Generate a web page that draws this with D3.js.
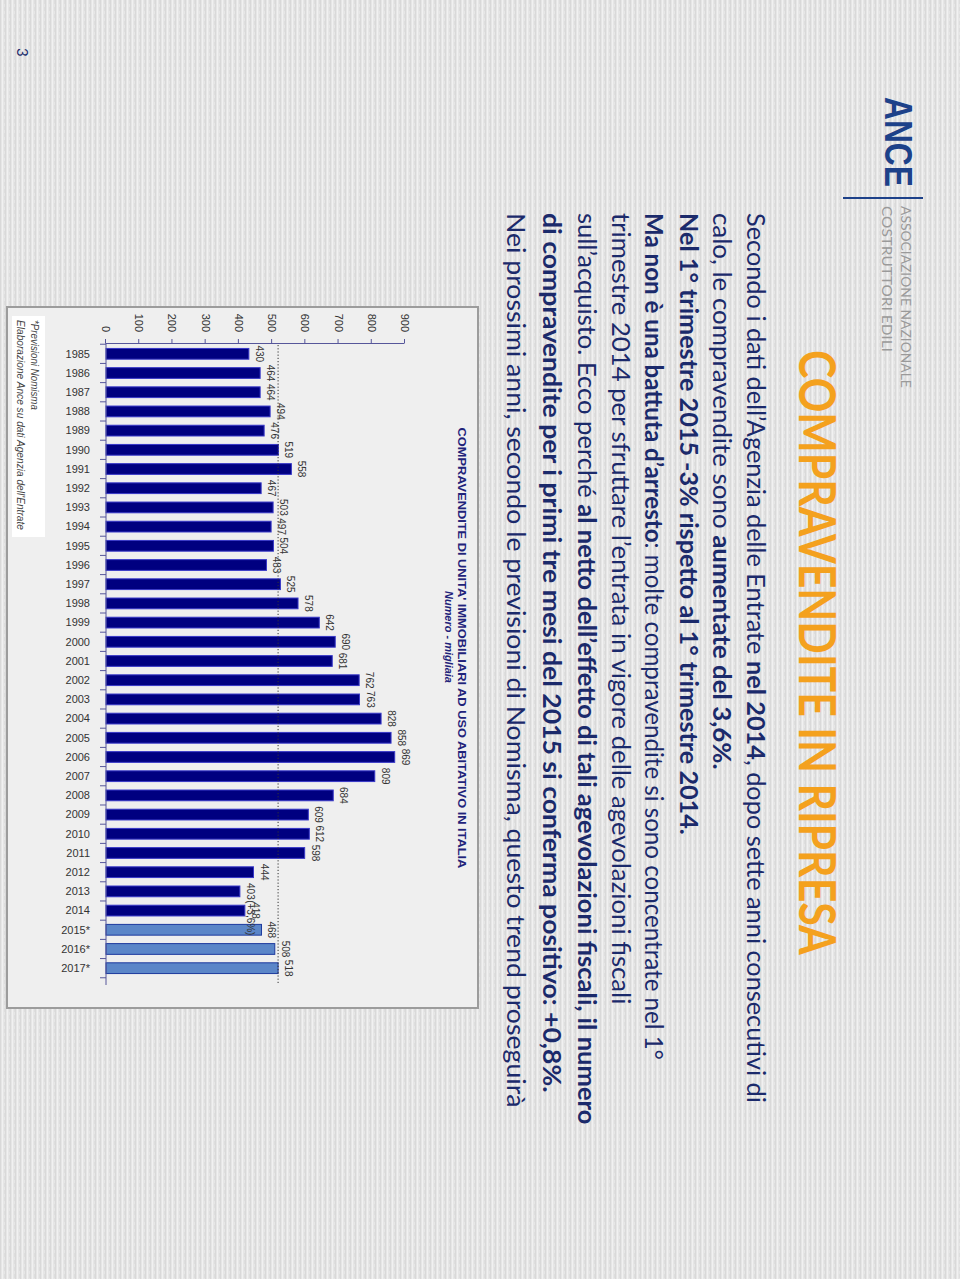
<!DOCTYPE html>
<html>
<head>
<meta charset="utf-8">
<script src="https://cdn.jsdelivr.net/npm/d3@7"></script>
<style>
html,body{margin:0;padding:0;background:#e8e8e8;}
svg{display:block;}
</style>
</head>
<body>
<svg id="page" width="960" height="1279"></svg>
<script>
// ---------------- DATA ----------------
const years = ["1985","1986","1987","1988","1989","1990","1991","1992","1993","1994","1995","1996","1997","1998","1999","2000","2001","2002","2003","2004","2005","2006","2007","2008","2009","2010","2011","2012","2013","2014","2015*","2016*","2017*"];
const values = [430,464,464,494,476,519,558,467,503,497,504,483,525,578,642,690,681,762,763,828,858,869,809,684,609,612,598,444,403,418,468,508,518];
const forecastYears = ["2015*","2016*","2017*"];
const valueTicks = [0,100,200,300,400,500,600,700,800,900];
const referenceValue = 518;
const annotations = [{year:"2013", text:"(+3,6%)"}];

const slideTitle = "COMPRAVENDITE IN RIPRESA";
const chartTitle = "COMPRAVENDITE DI UNITA' IMMOBILIARI AD USO ABITATIVO IN ITALIA";
const chartSubtitle = "Numero - migliaia";
const footnotes = ["*Previsioni Nomisma", "Elaborazione Ance su dati Agenzia dell'Entrate"];
const bodyLines = [
  [["Secondo i dati dell’Agenzia delle Entrate ",0],["nel 2014",1],[", dopo sette anni consecutivi di",0]],
  [["calo, le compravendite sono ",0],["aumentate del 3,6%.",1]],
  [["Nel 1° trimestre 2015 -3% rispetto al 1° trimestre 2014.",1]],
  [["Ma non è una battuta d’arresto",1],[": molte compravendite si sono concentrate nel 1°",0]],
  [["trimestre 2014 per sfruttare l’entrata in vigore delle agevolazioni fiscali",0]],
  [["sull’acquisto. Ecco perché ",0],["al netto dell’effetto di tali agevolazioni fiscali, il numero",1]],
  [["di compravendite per i primi tre mesi del 2015 si conferma positivo: +0,8%.",1]],
  [["Nei prossimi anni, secondo le previsioni di Nomisma, questo trend proseguirà",0]]
];

// ---------------- LAYOUT ----------------
const svg = d3.select("#page");
const defs = svg.append("defs");
const pat = defs.append("pattern").attr("id","tex").attr("patternUnits","userSpaceOnUse")
  .attr("width",5).attr("height",7);
pat.append("rect").attr("width",5).attr("height",7).attr("fill","#e6e6e6");
pat.append("rect").attr("x",0).attr("width",1).attr("height",7).attr("fill","#d9d9d9");
pat.append("rect").attr("x",2).attr("width",1).attr("height",7).attr("fill","#f1f1f1");
pat.append("rect").attr("x",4).attr("width",1).attr("height",4).attr("fill","#dedede");
svg.append("rect").attr("width",960).attr("height",1279).attr("fill","url(#tex)");

// slide is rotated 90° clockwise on the page
const slide = svg.append("g").attr("transform","translate(960,0) rotate(90)");

function scaleText(sel, s){
  const x0 = +sel.attr("x"), y0 = +sel.attr("y");
  sel.attr("transform", `translate(${x0},${y0}) scale(${s},1) translate(${-x0},${-y0})`);
}
function fit(sel, w){
  scaleText(sel, w / sel.node().getComputedTextLength());
}

const navy = "#1b2a6b";

// ANCE logo
fit(slide.append("text").attr("x",97).attr("y",75).attr("font-family","Liberation Sans, Arial")
  .attr("font-weight","bold").attr("font-size",38).attr("fill","#1d4189").text("ANCE"), 90);
slide.append("line").attr("x1",198).attr("x2",198).attr("y1",37).attr("y2",117)
  .attr("stroke","#1d4189").attr("stroke-width",2);
fit(slide.append("text").attr("x",206).attr("y",59).attr("font-family","Lato").attr("font-weight",400)
  .attr("font-size",14).attr("fill","#9a9a9a").text("ASSOCIAZIONE NAZIONALE"), 182);
fit(slide.append("text").attr("x",206).attr("y",78).attr("font-family","Lato").attr("font-weight",400)
  .attr("font-size",14).attr("fill","#9a9a9a").text("COSTRUTTORI EDILI"), 146);

// Title
fit(slide.append("text").attr("x",350).attr("y",161).attr("font-family","Lato").attr("font-weight",700)
  .attr("font-size",51).attr("fill","#f4a11e").text(slideTitle), 605);

// Body
const baselines = [213,247,280,315,348,382,417,453];
const lineWidths = [890,557,622,847,792,912,880,895];
bodyLines.forEach((parts,i)=>{
  const t = slide.append("text").attr("x",213).attr("y",baselines[i]).attr("font-family","Lato")
    .attr("font-size",25).attr("fill",navy);
  parts.forEach(p=>{
    t.append("tspan").attr("font-weight",p[1]?700:400).text(p[0]);
  });
  fit(t, lineWidths[i]);
});

// Page number
slide.append("text").attr("x",48).attr("y",943).attr("font-family","Lato").attr("font-size",15)
  .attr("fill",navy).text("3");

// ---------------- CHART ----------------
slide.append("rect").attr("x",307).attr("y",482).attr("width",701).attr("height",471)
  .attr("fill","#efefef").attr("stroke","#9c9c9c").attr("stroke-width",2);

const x = d3.scaleBand().domain(years).range([340,982]).paddingInner(0.44).paddingOuter(0.44);
const y = d3.scaleLinear().domain([0,900]).range([854,555]);
const axisColor = "#56569a";

// chart title
fit(slide.append("text").attr("x",648).attr("y",502).attr("text-anchor","middle")
  .attr("font-family","Liberation Sans, Arial").attr("font-weight","bold").attr("font-size",11)
  .attr("fill","#1f237a").text(chartTitle), 441);
fit(slide.append("text").attr("x",637).attr("y",515).attr("text-anchor","middle")
  .attr("font-family","Liberation Sans, Arial").attr("font-weight","bold").attr("font-style","italic")
  .attr("font-size",11).attr("fill","#1f237a").text(chartSubtitle), 92);

// footnote box
slide.append("rect").attr("x",316).attr("y",915).attr("width",221).attr("height",33).attr("fill","#ffffff");
fit(slide.append("text").attr("x",320).attr("y",929).attr("font-family","Liberation Sans, Arial")
  .attr("font-style","italic").attr("font-size",11).attr("fill","#444").text(footnotes[0]), 90);
fit(slide.append("text").attr("x",320).attr("y",943).attr("font-family","Liberation Sans, Arial")
  .attr("font-style","italic").attr("font-size",11).attr("fill","#444").text(footnotes[1]), 210);

// bars
const data = years.map((yr,i)=>({year:yr, value:values[i], fc: forecastYears.includes(yr)}));
slide.append("g").selectAll("rect").data(data).join("rect")
  .attr("x",d=>x(d.year)).attr("width",x.bandwidth())
  .attr("y",d=>y(d.value)).attr("height",d=>y(0)-y(d.value))
  .attr("fill",d=>d.fc?"#5b86c8":"#000080")
  .attr("stroke",d=>d.fc?"#1d3a9e":"#3838c8").attr("stroke-width",1);

// reference dotted line
slide.append("line").attr("x1",345).attr("x2",983).attr("y1",y(referenceValue)).attr("y2",y(referenceValue))
  .attr("stroke","#333").attr("stroke-width",1).attr("stroke-dasharray","1.2,2");

// value axis
const va = slide.append("g").attr("transform","translate(343,0)")
  .call(d3.axisLeft(y).tickValues(valueTicks).tickSize(4).tickPadding(7).tickSizeOuter(0));
va.select(".domain").attr("stroke",axisColor);
va.selectAll(".tick line").attr("stroke",axisColor);
va.selectAll("text").attr("font-family","Liberation Sans, Arial").attr("font-size",11).attr("fill","#333");

// category axis
const ca = slide.append("g").attr("transform","translate(0,854)")
  .call(d3.axisBottom(x).tickSize(0).tickSizeOuter(0));
ca.select(".domain").attr("d","M343,0H985").attr("stroke",axisColor);
ca.selectAll("text").attr("font-family","Liberation Sans, Arial").attr("font-size",11).attr("fill","#333")
  .attr("transform","rotate(-90)").attr("text-anchor","end").attr("x",-16).attr("y",0).attr("dy","0.35em");
const step = x.step();
const bounds = d3.range(years.length+1).map(i => x(years[0]) + x.bandwidth()/2 - step/2 + i*step);
slide.append("g").selectAll("line").data(bounds).join("line")
  .attr("x1",d=>d).attr("x2",d=>d).attr("y1",854).attr("y2",860).attr("stroke",axisColor);

// value labels
const lbl = slide.append("g").selectAll("text").data(data).join("text")
  .attr("x",d=>x(d.year)+x.bandwidth()/2).attr("y",d=>y(d.value)-7)
  .attr("text-anchor","middle").attr("font-family","Liberation Sans, Arial").attr("font-size",10)
  .attr("fill","#333").text(d=>d.value);

// annotation following a value label
annotations.forEach(a=>{
  const node = lbl.filter(d=>d.year===a.year).node();
  const bb = node.getBBox();
  const v = values[years.indexOf(a.year)];
  slide.append("text").attr("x",bb.x+bb.width).attr("y",y(v)-7)
    .attr("font-family","Liberation Sans, Arial").attr("font-size",10).attr("fill","#333").text(a.text);
});
</script>
</body>
</html>
